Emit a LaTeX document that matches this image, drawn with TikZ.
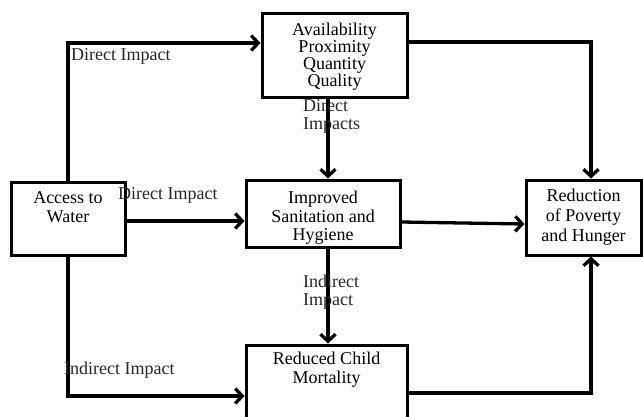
\documentclass[tikz,border=0pt]{standalone}
\usepackage{fontspec}
\setmainfont{Liberation Serif}
\usetikzlibrary{arrows.meta}

\begin{document}
\begin{tikzpicture}[x=1pt, y=-1pt,
  box/.style={draw, line width=3pt, fill=white, align=center, inner sep=0pt,
    font=\fontsize{18}{18.5}\selectfont},
  arr/.style={line width=3.3pt, -{Straight Barb[length=7pt, width=15pt]}},
  lbl/.style={anchor=west, inner sep=0pt, align=left, text=black!85,
    font=\fontsize{18}{18}\selectfont}]
\useasboundingbox (0,0) rectangle (643,416);
\node[box, font=\fontsize{18}{17}\selectfont, minimum width=145pt, minimum height=84pt] (avail) at (334.5,55) {\rule{0pt}{16pt}Availability\\Proximity\\Quantity\\Quality};
\node[box, minimum width=114pt, minimum height=73pt] (access) at (68,218.5) {Access to\\Water\\[4pt]};
\node[box, minimum width=154pt, minimum height=67pt] (sanit) at (323,213.5) {\rule{0pt}{21pt}Improved\\Sanitation and\\Hygiene};
\node[box, font=\fontsize{18}{20}\selectfont, minimum width=115pt, minimum height=75pt] (poverty) at (583.5,217.5) {Reduction\\of Poverty\\and Hunger};
\node[box, minimum width=161pt, minimum height=90pt] (mortal) at (326.5,390) {Reduced Child\\Mortality\\[26pt]};
\draw[arr] (access.north) |- ([yshift=12pt]avail.west);
\draw[arr] ([yshift=13pt]avail.east) -| ([xshift=7.5pt]poverty.north);
\draw[arr] ([xshift=-6.5pt]avail.south) -- ([xshift=-6.5pt]avail.south |- sanit.north);
\draw[arr] ([yshift=-2.5pt]access.east) -- ([yshift=-2.5pt]access.east -| sanit.west);
\draw[arr] ([yshift=-8.5pt]sanit.east) -- ([yshift=-6.5pt]poverty.west);
\draw[arr] ([xshift=5pt]sanit.south) -- ([xshift=5pt]sanit.south |- mortal.north);
\draw[arr] (access.south) |- (mortal.west |- 0,396);
\draw[arr] (mortal.east |- 0,393) -| ([xshift=7.5pt]poverty.south);
\node[lbl] (l1) at (71,56) {Direct Impact};
\node[lbl] (l2) at (303,116) {Direct\\Impacts};
\node[lbl] (l3) at (118,195) {Direct Impact};
\node[lbl] (l4) at (303,292) {Indirect\\Impact};
\node[lbl] (l5) at (64,370) {Indirect Impact};
\end{tikzpicture}
\end{document}
